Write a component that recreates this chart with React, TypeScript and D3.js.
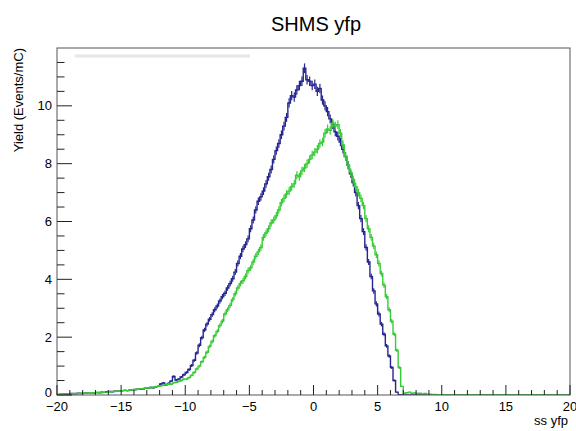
import React from "react"
import * as d3 from "d3"

// histogram settings: 200 bins from -20 to 20
const binLow = -20
const binWidth = 0.2

// yield per bin (first run, blue)
const blueYield = [
  0.02, 0.03, 0.03, 0.04, 0.03, 0.05, 0.04, 0.05, 0.06, 0.05,
  0.06, 0.07, 0.06, 0.08, 0.07, 0.09, 0.08, 0.10, 0.09, 0.11,
  0.12, 0.11, 0.13, 0.14, 0.13, 0.15, 0.16, 0.15, 0.17, 0.18,
  0.19, 0.20, 0.21, 0.20, 0.23, 0.24, 0.26, 0.25, 0.28, 0.30,
  0.38, 0.42, 0.35, 0.40, 0.48, 0.64, 0.52, 0.55, 0.62, 0.70,
  0.78, 0.88, 1.02, 1.20, 1.45, 1.72, 1.98, 2.25, 2.45, 2.62,
  2.78, 2.95, 3.08, 3.25, 3.40, 3.52, 3.70, 3.85, 4.02, 4.25,
  4.55, 4.80, 5.05, 5.20, 5.40, 5.75, 6.05, 6.40, 6.70, 6.85,
  7.05, 7.30, 7.55, 7.80, 8.15, 8.45, 8.70, 9.00, 9.30, 9.60,
  10.10, 10.35, 10.30, 10.55, 10.70, 10.85, 11.30, 10.90, 10.85, 10.70,
  10.75, 10.50, 10.60, 10.20, 10.00, 9.80, 9.55, 9.35, 9.10, 8.95,
  8.75, 8.50, 8.25, 7.95, 7.65, 7.35, 7.00, 6.55, 6.10, 5.65,
  5.10, 4.60, 4.10, 3.60, 3.15, 2.80, 2.45, 2.10, 1.70, 1.35,
  0.95, 0.50, 0.10, 0.01, 0, 0, 0, 0, 0, 0,
  0, 0, 0, 0, 0, 0, 0, 0, 0, 0,
  0, 0, 0, 0, 0, 0, 0, 0, 0, 0,
  0, 0, 0, 0, 0, 0, 0, 0, 0, 0,
  0, 0, 0, 0, 0, 0, 0, 0, 0, 0,
  0, 0, 0, 0, 0, 0, 0, 0, 0, 0,
  0, 0, 0, 0, 0, 0, 0, 0, 0, 0,
]

// second run, green
const greenYield = [
  0.02, 0.03, 0.02, 0.04, 0.03, 0.04, 0.05, 0.04, 0.05, 0.06,
  0.06, 0.07, 0.06, 0.08, 0.07, 0.08, 0.09, 0.08, 0.10, 0.10,
  0.11, 0.12, 0.12, 0.14, 0.13, 0.15, 0.16, 0.15, 0.17, 0.18,
  0.19, 0.20, 0.22, 0.21, 0.24, 0.25, 0.24, 0.27, 0.29, 0.30,
  0.32, 0.34, 0.35, 0.38, 0.37, 0.42, 0.44, 0.47, 0.50, 0.55,
  0.55, 0.60, 0.68, 0.78, 0.90, 1.00, 1.15, 1.30, 1.48, 1.68,
  1.85, 2.05, 2.20, 2.40, 2.55, 2.80, 2.95, 3.10, 3.30, 3.50,
  3.70, 3.85, 3.95, 4.10, 4.30, 4.40, 4.60, 4.80, 4.95, 5.10,
  5.45, 5.60, 5.75, 5.95, 6.05, 6.20, 6.40, 6.65, 6.80, 6.95,
  7.05, 7.20, 7.30, 7.60, 7.55, 7.75, 7.85, 8.00, 8.15, 8.30,
  8.40, 8.50, 8.70, 8.75, 9.05, 9.20, 9.15, 9.40, 9.30, 9.35,
  9.05, 8.65, 8.25, 7.95, 7.70, 7.45, 7.20, 7.00, 6.80, 6.55,
  6.10, 5.75, 5.45, 5.15, 4.85, 4.55, 4.20, 3.80, 3.40, 2.95,
  2.55, 2.10, 1.55, 0.95, 0.30, 0.06, 0.08, 0.10, 0.06, 0.07,
  0.05, 0.06, 0.04, 0.05, 0.03, 0.03, 0.02, 0.02, 0.01, 0.01,
  0, 0, 0, 0, 0, 0, 0, 0, 0, 0,
  0, 0, 0, 0, 0, 0, 0, 0, 0, 0,
  0, 0, 0, 0, 0, 0, 0, 0, 0, 0,
  0, 0, 0, 0, 0, 0, 0, 0, 0, 0,
  0, 0, 0, 0, 0, 0, 0, 0, 0, 0,
]

const xMajorTicks = [-20, -15, -10, -5, 0, 5, 10, 15, 20]
const yMajorTicks = [0, 2, 4, 6, 8, 10]

const W = 576
const H = 431
const left = 57, right = 570, top = 48, bottom = 395
const font = "'Liberation Sans', Arial, Helvetica, sans-serif"

const fmt = (v: number) => (v < 0 ? "\u2212" + Math.abs(v) : String(v))

function Hist({ values, color, x, y }: any) {
  const pts: [number, number][] = []
  values.forEach((v: number, i: number) => {
    const lo = binLow + i * binWidth
    pts.push([lo, v])
    pts.push([lo + binWidth, v])
  })
  const line = d3.line<[number, number]>()
    .x(d => x(d[0]))
    .y(d => y(d[1]))
  return (
    <g>
      <path d={line(pts) || ""} fill="none" stroke={color} strokeWidth={1.4} />
      {values.map((v: number, i: number) => {
        if (v <= 0) return null
        const c = binLow + (i + 0.5) * binWidth
        const e = 0.05 * Math.sqrt(v)
        return <line key={i} x1={x(c)} x2={x(c)} y1={y(v - e)} y2={y(v + e)} stroke={color} strokeWidth={1.2} />
      })}
    </g>
  )
}

export default function App() {
  const x = d3.scaleLinear().domain([-20, 20]).range([left, right])
  const y = d3.scaleLinear().domain([0, 12]).range([bottom, top])

  const xMinor = d3.range(-20, 21, 1).filter(v => v % 5 !== 0)
  const yMinor = d3.range(0, 12.01, 0.5).filter(v => v % 2 !== 0 && v < 12)

  return (
    <svg width={W} height={H} style={{ position: "absolute", left: 0, top: 0, background: "#fff" }}>
      <defs>
        <clipPath id="plot">
          <rect x={left} y={top} width={right - left} height={bottom - top} />
        </clipPath>
      </defs>
      <text x={316} y={31} textAnchor="middle" fontFamily={font} fontSize={20}>SHMS yfp</text>

      {/* faint stat box remnant */}
      <line x1={75} x2={250} y1={56} y2={56} stroke="#e6e6e6" strokeWidth={3} />

      <g clipPath="url(#plot)">
        <Hist values={blueYield} color="#26268f" x={x} y={y} />
        <Hist values={greenYield} color="#38cc38" x={x} y={y} />
      </g>

      <rect x={left} y={top} width={right - left} height={bottom - top} fill="none" stroke="#555" strokeWidth={1} />

      {/* x axis */}
      {xMajorTicks.map(v => (
        <g key={"xm" + v}>
          <line x1={x(v)} x2={x(v)} y1={bottom} y2={bottom - 10} stroke="#222" />
          <text x={x(v)} y={411} textAnchor="middle" fontFamily={font} fontSize={13}>{fmt(v)}</text>
        </g>
      ))}
      {xMinor.map(v => (
        <line key={"xn" + v} x1={x(v)} x2={x(v)} y1={bottom} y2={bottom - 5} stroke="#222" />
      ))}
      <text x={568} y={425} textAnchor="end" fontFamily={font} fontSize={13}>ss yfp</text>

      {/* y axis */}
      {yMajorTicks.map(v => (
        <g key={"ym" + v}>
          <line x1={left} x2={left + 15} y1={y(v)} y2={y(v)} stroke="#222" />
          <text x={52} y={y(v) + (v === 0 ? 2 : 4.5)} textAnchor="end" fontFamily={font} fontSize={13}>{fmt(v)}</text>
        </g>
      ))}
      {yMinor.map(v => (
        <line key={"yn" + v} x1={left} x2={left + 7.5} y1={y(v)} y2={y(v)} stroke="#222" />
      ))}
      <text transform={`translate(23,${top})rotate(-90)`} textAnchor="end" fontFamily={font} fontSize={13}>Yield (Events/mC)</text>
    </svg>
  )
}
